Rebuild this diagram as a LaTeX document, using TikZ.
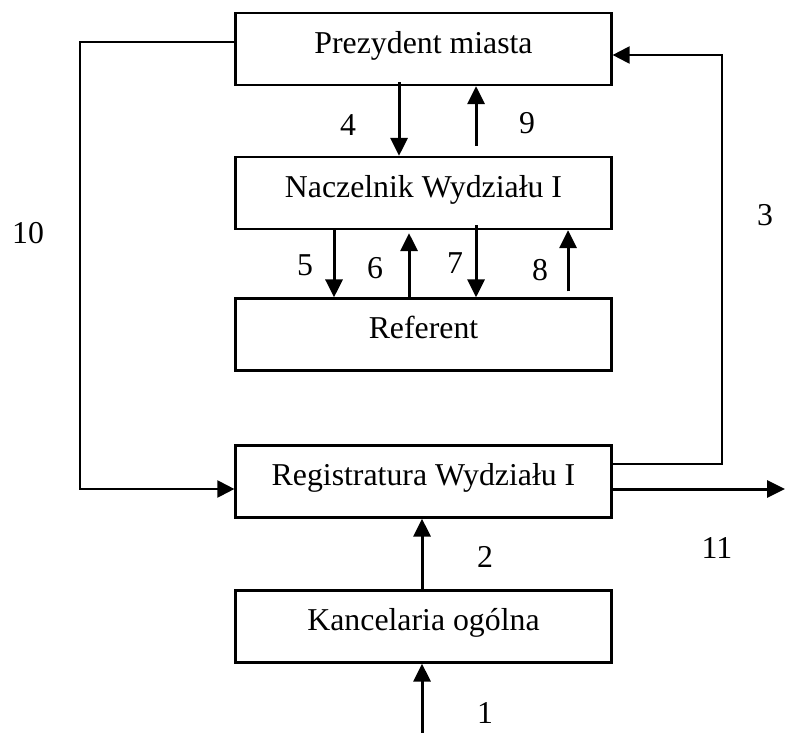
\documentclass[tikz,border=0pt]{standalone}
\usepackage{fontspec}
\setmainfont{Liberation Serif}
\usetikzlibrary{arrows.meta}
\begin{document}
\begin{tikzpicture}[x=1pt,y=-1pt,
  unitbox/.style={draw,line width=2.2pt,minimum width=376pt,minimum height=72pt,inner sep=0pt,
    font=\fontsize{31.8}{38}\selectfont,text height=22pt,text depth=13.5pt},
  flow/.style={line width=3pt,-{Triangle[length=18pt,width=17pt]}},
  loop/.style={line width=2.2pt,-{Triangle[length=17pt,width=17pt]}},
  num/.style={font=\fontsize{31.8}{38}\selectfont,inner sep=0pt}]
\useasboundingbox (0,0) rectangle (785,733);

% units of the office
\node[unitbox] (P) at (423.5,49)    {Prezydent miasta};
\node[unitbox] (N) at (423.5,193)   {Naczelnik Wydziału I};
\node[unitbox] (R) at (423.5,334.5) {Referent};
\node[unitbox] (W) at (423.5,481.5) {Registratura Wydziału I};
\node[unitbox] (K) at (423.5,626.5) {Kancelaria ogólna};

% column and bend points
\coordinate (x4) at (399,0);
\coordinate (x9) at (476,0);
\coordinate (x5) at (334,0);
\coordinate (x6) at (409,0);
\coordinate (x8) at (568,0);
\coordinate (x2) at (422,0);
\coordinate (in1) at (422,733);
\coordinate (out11) at (785,489);
\coordinate (l10a) at (80,42);
\coordinate (l10b) at (80,489);
\coordinate (l3a) at (722,464);
\coordinate (l3b) at (722,55);

% president <-> head of department
\draw[flow] ([yshift=4pt]x4 |- P.south) -- (x4 |- N.north);
\draw[flow] ([yshift=10pt]x9 |- N.north) -- (x9 |- P.south);

% head of department <-> clerk
\draw[flow] (x5 |- N.south) -- (x5 |- R.north);
\draw[flow] (x6 |- R.north) -- ([yshift=-3pt]x6 |- N.south);
\draw[flow] ([yshift=5pt]x9 |- N.south) -- (x9 |- R.north);
\draw[flow] ([yshift=6pt]x8 |- R.north) -- (x8 |- N.south);

% registry loops
\draw[loop] (l10a -| P.west) -- (l10a) -- (l10b) -- (l10b -| W.west);
\draw[loop] (l3a -| W.east) -- (l3a) -- (l3b) -- (l3b -| P.east);
\draw[flow] (out11 -| W.east) -- (out11);

% incoming mail
\draw[flow] (x2 |- K.north) -- (x2 |- W.south);
\draw[flow] (in1) -- (x2 |- K.south);

% step numbers
\node[num] (n1)  at (485,713) {1};
\node[num] (n2)  at (485,557) {2};
\node[num] (n3)  at (765,215) {3};
\node[num] (n4)  at (348,125) {4};
\node[num] (n5)  at (305,265) {5};
\node[num] (n6)  at (375,268) {6};
\node[num] (n7)  at (455,263) {7};
\node[num] (n8)  at (540,270) {8};
\node[num] (n9)  at (527,123) {9};
\node[num] (n10) at (28,233)  {10};
\node[num] (n11) at (717,548) {11};
\end{tikzpicture}
\end{document}
